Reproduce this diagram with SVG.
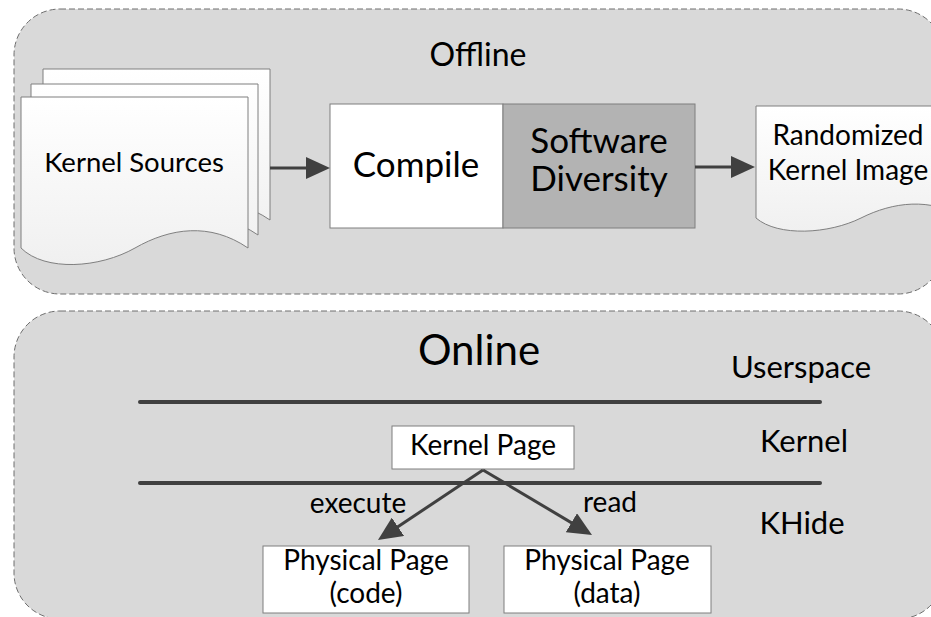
<svg xmlns="http://www.w3.org/2000/svg" width="931" height="617" viewBox="0 0 931 617">
  <defs>
    <linearGradient id="docFill" x1="0" y1="0" x2="0" y2="1">
      <stop offset="0" stop-color="#ffffff"/>
      <stop offset="1" stop-color="#f0f0f0"/>
    </linearGradient>
    <marker id="head" markerUnits="userSpaceOnUse" viewBox="0 0 24 22" markerWidth="24" markerHeight="22" refX="14" refY="11" orient="auto">
      <path d="M0,0 L24,11 L0,22 Z" fill="#404040"/>
    </marker>
  </defs>
  <style>
    .panel { fill: #d9d9d9; stroke: #6e6e6e; stroke-width: 1; stroke-dasharray: 6 3; }
    .doc { fill: url(#docFill); stroke: #7f7f7f; stroke-width: 1; }
    .box { fill: #ffffff; stroke: #7f7f7f; stroke-width: 1; }
    .dark { fill: #b3b3b3; stroke: #7f7f7f; stroke-width: 1; }
    .layer { stroke: #404040; stroke-width: 4; stroke-linecap: round; fill: none; }
    .conn { stroke: #404040; stroke-width: 3; fill: none; marker-end: url(#head); }
    text { font-family: Lato, "Open Sans", "Liberation Sans", sans-serif; fill: #000000; text-anchor: middle; }
  </style>

  <!-- offline stage -->
  <g id="offline">
    <rect class="panel" x="14" y="9" width="930" height="285" rx="46" ry="46"/>
    <text x="478" y="66" font-size="32">Offline</text>
  </g>

  <!-- online stage -->
  <g id="online">
    <rect class="panel" x="14" y="311" width="930" height="308" rx="46" ry="46"/>
    <text x="479" y="365" font-size="42">Online</text>
  </g>

  <g id="kernel-sources">
    <path class="doc" d="M43,69 H270 V220 C232,194 192,200 157,220 S67,244 43,220 Z"/>
    <path class="doc" d="M31,84 H258 V235 C220,209 180,215 145,235 S55,259 31,235 Z"/>
    <path class="doc" d="M21,97 H248 V248 C210,222 170,228 135,248 S45,272 21,248 Z"/>
    <text x="134" y="172" font-size="27.5">Kernel Sources</text>
  </g>

  <g id="compile">
    <rect class="box" x="330" y="104" width="173" height="124"/>
    <text x="416" y="177" font-size="35">Compile</text>
  </g>

  <g id="software-diversity">
    <rect class="dark" x="503" y="104" width="192" height="124"/>
    <text font-size="35"><tspan x="599" y="153">Software</tspan><tspan x="599" y="191">Diversity</tspan></text>
  </g>

  <g id="randomized-image">
    <path class="doc" d="M756,106 H965 V218 C930,197 893,202 861,218 S778,237 756,218 Z"/>
    <text font-size="28"><tspan x="848" y="145">Randomized</tspan><tspan x="848" y="180">Kernel Image</tspan></text>
  </g>

  <!-- privilege layers -->
  <g id="layers">
    <line class="layer" x1="140" y1="402" x2="820" y2="402"/>
    <line class="layer" x1="140" y1="483" x2="820" y2="483"/>
    <text x="801" y="378" font-size="31">Userspace</text>
    <text x="804" y="452" font-size="31">Kernel</text>
    <text x="802" y="534" font-size="31">KHide</text>
  </g>

  <g id="kernel-page">
    <rect class="box" x="392" y="426" width="182" height="43"/>
    <text x="483" y="455" font-size="28">Kernel Page</text>
  </g>

  <g id="physical-code">
    <rect class="box" x="263" y="546" width="206" height="67"/>
    <text font-size="28"><tspan x="366" y="570">Physical Page</tspan><tspan x="366" y="603">(code)</tspan></text>
  </g>

  <g id="physical-data">
    <rect class="box" x="504" y="546" width="207" height="67"/>
    <text font-size="28"><tspan x="607" y="570">Physical Page</tspan><tspan x="607" y="603">(data)</tspan></text>
  </g>

  <g id="connectors">
    <line class="conn" x1="270" y1="168" x2="320" y2="168"/>
    <line class="conn" x1="695" y1="167" x2="745" y2="167"/>
    <line class="conn" x1="483" y1="470" x2="386.3" y2="534.5"/>
    <line class="conn" x1="483" y1="470" x2="583.4" y2="529.9"/>
    <text x="358" y="513" font-size="28">execute</text>
    <text x="610" y="512" font-size="28">read</text>
  </g>
</svg>
